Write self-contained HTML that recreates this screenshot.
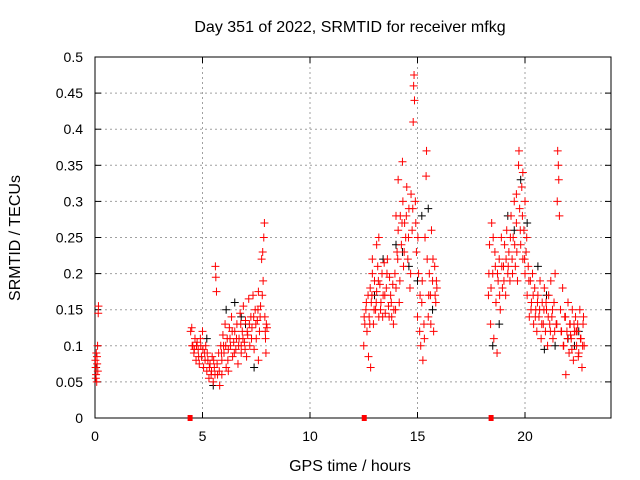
<!DOCTYPE html>
<html><head><meta charset="utf-8"><style>
body{margin:0;background:#fff}
svg{display:block;font-family:"Liberation Sans",sans-serif}
</style></head><body>
<svg id="chart" width="640" height="480" viewBox="0 0 640 480" xmlns="http://www.w3.org/2000/svg">
<rect width="640" height="480" fill="#fff"/>
<g id="grid"></g>
<g id="axes"></g>
<g id="marks"></g>
<text x="350" y="32" font-size="16" text-anchor="middle">Day 351 of 2022, SRMTID for receiver mfkg</text>
<text x="350" y="471" font-size="16" text-anchor="middle">GPS time / hours</text>
<text x="20" y="238" font-size="16" text-anchor="middle" transform="rotate(-90 20 238)">SRMTID / TECUs</text>
</svg>
<script>
const xTicks=[0,5,10,15,20];
const yTicks=[0,0.05,0.1,0.15,0.2,0.25,0.3,0.35,0.4,0.45,0.5];
const yTickLabels=["0","0.05","0.1","0.15","0.2","0.25","0.3","0.35","0.4","0.45","0.5"];
const gapHours=[4.4,12.5,18.4];
const blackX=[0.05,5.2,6.1,6.5,7.0,7.4,5.5,13.4,14.0,14.6,15.2,15.5,15.7,13.0,18.5,19.2,19.5,20.1,20.6,21.0,21.4,22.0,22.5,19.8,15.0,14.3,6.8,20.9,22.3,18.8];
const blackY=[0.07,0.11,0.15,0.16,0.13,0.07,0.045,0.22,0.24,0.21,0.28,0.29,0.15,0.17,0.1,0.28,0.26,0.27,0.21,0.17,0.1,0.11,0.12,0.33,0.19,0.23,0.14,0.095,0.1,0.13];
const redX=[0.02,0.03,0.05,0.06,0.08,0.1,0.12,0.13,0.15,0.16,0.04,0.09,
4.45,4.5,4.55,4.6,4.65,4.7,4.75,4.8,4.85,4.9,4.95,5.0,5.05,5.1,5.15,5.2,5.25,5.3,5.35,5.4,5.45,5.5,5.55,5.6,5.62,5.65,5.7,5.75,5.8,5.85,5.9,5.95,6.0,6.05,6.1,6.15,6.2,6.25,6.3,6.35,6.4,6.45,6.5,6.55,6.6,6.65,6.7,6.75,6.8,6.85,6.9,6.95,7.0,7.05,7.1,7.15,7.2,7.25,7.3,7.35,7.4,7.45,7.5,7.55,7.6,7.65,7.7,7.75,7.8,7.82,7.85,7.88,7.9,7.92,7.95,7.97,8.0,7.6,6.2,5.9,6.8,
12.5,12.55,12.6,12.65,12.7,12.72,12.75,12.8,12.82,12.85,12.9,12.95,13.0,13.05,13.1,13.15,13.2,13.25,13.3,13.35,13.4,13.45,13.5,13.55,13.6,13.65,13.7,13.75,13.8,13.85,13.9,13.95,14.0,14.05,14.1,14.15,14.2,14.25,14.3,14.32,14.35,14.4,14.45,14.5,14.55,14.6,14.65,14.7,14.75,14.8,14.82,14.84,14.86,14.9,14.95,15.0,15.05,15.1,15.15,15.2,15.25,15.3,15.35,15.4,15.42,15.45,15.5,15.55,15.6,15.65,15.7,15.75,15.8,15.85,15.9,13.2,13.1,12.9,14.1,14.0,
18.3,18.35,18.4,18.45,18.5,18.55,18.6,18.65,18.7,18.75,18.8,18.85,18.9,18.95,19.0,19.05,19.1,19.15,19.2,19.25,19.3,19.35,19.4,19.45,19.5,19.55,19.6,19.65,19.7,19.72,19.75,19.8,19.85,19.9,19.95,20.0,20.05,20.1,20.15,20.2,20.25,20.3,20.35,20.4,20.45,20.5,20.55,20.6,20.65,20.7,20.75,20.8,20.85,20.9,20.95,21.0,21.05,21.1,21.15,21.2,21.25,21.3,21.35,21.4,21.45,21.5,21.52,21.55,21.57,21.6,21.65,21.7,21.75,21.8,21.85,21.9,21.95,22.0,22.05,22.1,22.15,22.2,22.25,22.3,22.35,22.4,22.45,22.5,22.55,22.6,22.65,22.7,22.75,20.0,19.9,19.6];
const redY=[0.08,0.07,0.06,0.09,0.05,0.075,0.1,0.065,0.145,0.155,0.055,0.085,
0.12,0.125,0.1,0.09,0.11,0.08,0.105,0.095,0.075,0.11,0.085,0.12,0.07,0.09,0.1,0.065,0.08,0.055,0.075,0.06,0.085,0.05,0.07,0.21,0.195,0.175,0.06,0.09,0.045,0.1,0.08,0.115,0.09,0.13,0.07,0.11,0.095,0.125,0.1,0.14,0.085,0.105,0.12,0.095,0.13,0.075,0.11,0.145,0.09,0.12,0.155,0.105,0.135,0.085,0.115,0.165,0.1,0.14,0.125,0.17,0.095,0.15,0.11,0.135,0.175,0.12,0.155,0.22,0.23,0.19,0.25,0.27,0.14,0.12,0.09,0.13,0.125,0.08,0.065,0.06,0.1,
0.1,0.13,0.15,0.12,0.17,0.085,0.14,0.18,0.07,0.16,0.2,0.13,0.19,0.15,0.175,0.21,0.14,0.185,0.16,0.2,0.17,0.215,0.145,0.18,0.22,0.155,0.195,0.17,0.14,0.185,0.15,0.2,0.18,0.23,0.26,0.16,0.28,0.24,0.355,0.3,0.21,0.27,0.25,0.32,0.22,0.29,0.18,0.31,0.26,0.41,0.46,0.475,0.44,0.3,0.23,0.14,0.2,0.12,0.1,0.16,0.08,0.13,0.25,0.335,0.37,0.22,0.14,0.2,0.17,0.26,0.19,0.12,0.21,0.16,0.18,0.25,0.24,0.22,0.33,0.28,
0.17,0.24,0.13,0.27,0.2,0.11,0.23,0.16,0.09,0.19,0.22,0.15,0.25,0.18,0.21,0.24,0.17,0.26,0.2,0.23,0.19,0.28,0.22,0.25,0.3,0.21,0.27,0.19,0.35,0.37,0.29,0.24,0.32,0.22,0.26,0.2,0.23,0.17,0.21,0.14,0.19,0.16,0.2,0.13,0.18,0.15,0.12,0.17,0.14,0.19,0.11,0.16,0.13,0.18,0.12,0.15,0.1,0.17,0.13,0.19,0.14,0.11,0.16,0.2,0.13,0.3,0.37,0.35,0.33,0.28,0.15,0.12,0.18,0.1,0.14,0.06,0.12,0.16,0.09,0.13,0.11,0.15,0.08,0.12,0.14,0.1,0.13,0.09,0.15,0.11,0.07,0.13,0.1,0.3,0.34,0.31];
const redExtraX=[4.52,4.62,4.72,4.82,4.92,5.02,5.12,5.22,5.32,5.42,5.52,5.58,5.68,5.78,5.88,5.98,6.08,6.18,6.28,6.38,6.48,6.58,6.68,6.78,6.88,6.98,7.08,7.18,7.28,7.38,7.48,7.58,7.68,7.78,7.93,
12.52,12.62,12.78,12.88,12.98,13.08,13.18,13.28,13.38,13.48,13.58,13.68,13.78,13.88,13.98,14.08,14.18,14.28,14.38,14.48,14.58,14.68,14.78,14.92,15.02,15.12,15.22,15.32,15.52,15.62,15.72,15.82,15.88,
18.32,18.42,18.52,18.62,18.72,18.82,18.92,19.02,19.12,19.22,19.32,19.42,19.52,19.62,19.78,19.88,19.98,20.08,20.18,20.28,20.38,20.48,20.58,20.68,20.78,20.88,20.98,21.08,21.18,21.28,21.38,21.48,21.68,21.78,21.88,21.98,22.08,22.18,22.28,22.38,22.48,22.58,22.68,22.72,22.42,22.12];
const redExtraY=[0.1,0.095,0.1,0.085,0.1,0.095,0.08,0.09,0.07,0.065,0.08,0.06,0.075,0.065,0.09,0.1,0.1,0.08,0.11,0.12,0.09,0.11,0.1,0.13,0.11,0.095,0.12,0.13,0.11,0.14,0.13,0.15,0.14,0.17,0.11,
0.14,0.16,0.13,0.17,0.15,0.16,0.19,0.15,0.14,0.17,0.2,0.14,0.16,0.13,0.15,0.22,0.19,0.27,0.23,0.28,0.25,0.2,0.29,0.27,0.25,0.17,0.19,0.11,0.17,0.13,0.22,0.17,0.19,
0.2,0.18,0.25,0.21,0.2,0.17,0.21,0.19,0.22,0.21,0.25,0.2,0.24,0.23,0.26,0.28,0.22,0.25,0.19,0.15,0.17,0.14,0.16,0.15,0.13,0.15,0.16,0.14,0.12,0.15,0.12,0.13,0.12,0.1,0.14,0.11,0.13,0.095,0.13,0.12,0.085,0.11,0.1,0.14,0.12,0.115,0.14,0.105];

const L=95,R=611,T=57,B=418,XMAX=24,YMAX=0.5;
const sx=v=>L+v/XMAX*(R-L);
const sy=v=>B-v/YMAX*(B-T);
const NS="http://www.w3.org/2000/svg";
function mk(tag,attrs,parent){const e=document.createElementNS(NS,tag);for(const k in attrs)e.setAttribute(k,attrs[k]);parent.appendChild(e);return e;}
const grid=document.getElementById('grid'),axes=document.getElementById('axes'),marks=document.getElementById('marks');
yTicks.forEach((t,i)=>{
  const y=sy(t);
  if(i>0&&i<yTicks.length-1){const g=mk('line',{x1:L,x2:R,y1:y,y2:y,stroke:'#a0a0a0','stroke-dasharray':'2,3'},grid);
  
  }
  mk('line',{x1:L,x2:L+6,y1:y,y2:y,stroke:'#000'},axes);
  mk('line',{x1:R,x2:R-6,y1:y,y2:y,stroke:'#000'},axes);
  const tx=mk('text',{x:L-12,y:y+5,'font-size':14,'text-anchor':'end'},axes);
  tx.textContent=yTickLabels[i];
  
  
});
xTicks.forEach(t=>{
  const x=sx(t);
  if(t>0){const g=mk('line',{x1:x,x2:x,y1:T,y2:B,stroke:'#a0a0a0','stroke-dasharray':'2,3'},grid);
  
  }
  mk('line',{x1:x,x2:x,y1:B,y2:B-6,stroke:'#000'},axes);
  mk('line',{x1:x,x2:x,y1:T,y2:T+6,stroke:'#000'},axes);
  const tx=mk('text',{x:x,y:B+23,'font-size':14,'text-anchor':'middle'},axes);
  tx.textContent=String(t);
  
  
});
const fr=mk('rect',{x:L,y:T,width:R-L,height:B-T,fill:'none',stroke:'#000'},axes);


function plus(x,y,c){
  const p=mk('path',{d:`M${x-4},${y}h8M${x},${y-4}v8`,stroke:c,'stroke-width':1,fill:'none'},marks);
  
  
}
blackX.forEach((v,i)=>plus(sx(v),sy(blackY[i]),'#000'));
redX.forEach((v,i)=>plus(sx(v),sy(redY[i]),'#f00'));
redExtraX.forEach((v,i)=>plus(sx(v),sy(redExtraY[i]),'#f00'));
gapHours.forEach(h=>{
  const r=mk('rect',{x:sx(h)-2,y:sy(0)-3,width:5,height:6,fill:'#f00'},marks);
  
  
});
</script>
</body></html>
